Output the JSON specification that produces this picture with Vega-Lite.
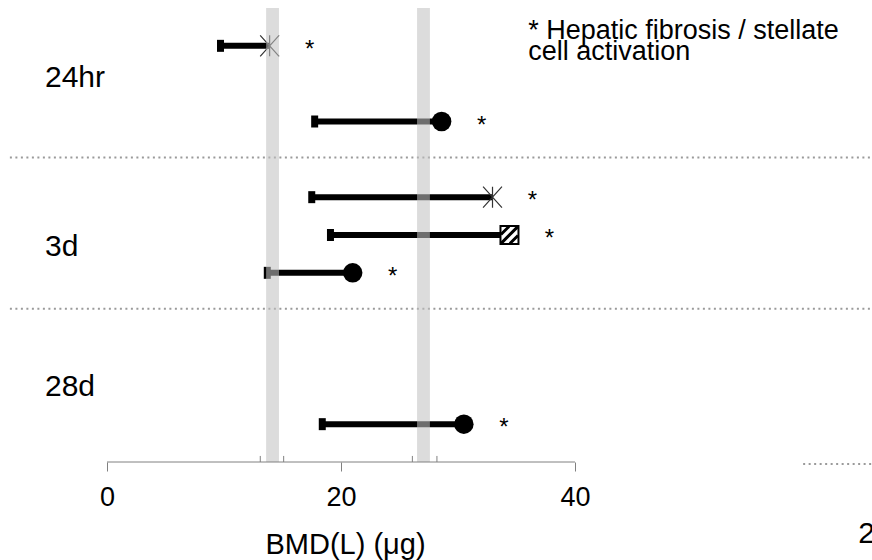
{
  "$schema": "https://vega.github.io/schema/vega-lite/v6.json",
  "width": 872,
  "height": 454,
  "autosize": "none",
  "padding": {"left": 0, "right": 0, "top": 8, "bottom": 98},
  "background": "white",
  "config": {"view": {"stroke": null}, "font": "Liberation Sans"},
  "datasets": {
    "est": [
      {"row": 0, "lo": 9.7, "bmd": 13.9, "shape": "asterisk"},
      {"row": 2, "lo": 17.75, "bmd": 28.6, "shape": "circle"},
      {"row": 4, "lo": 17.5, "bmd": 32.95, "shape": "asterisk"},
      {"row": 5, "lo": 19.1, "bmd": 34.4, "shape": "square"},
      {"row": 6, "lo": 13.7, "bmd": 21.0, "shape": "circle"},
      {"row": 10, "lo": 18.4, "bmd": 30.5, "shape": "circle"}
    ],
    "bands": [{"lo": 13.6, "hi": 14.7}, {"lo": 26.5, "hi": 27.6}],
    "brackets": [{"x": 13.1}, {"x": 15.1}, {"x": 26.1}, {"x": 28.2}],
    "seps": [
      {"x1": -8.3, "x2": 65.4, "y": 2.95},
      {"x1": -8.3, "x2": 65.4, "y": 6.95},
      {"x1": 59.5, "x2": 65.4, "y": 11.05}
    ],
    "axisline": [{"a": 0, "b": 40}],
    "labels": [
      {"t": "24hr", "x": -5.3, "y": 1.088},
      {"t": "3d", "x": -5.3, "y": 5.556},
      {"t": "28d", "x": -5.3, "y": 9.256}
    ],
    "legend": [
      {"t": "* Hepatic fibrosis / stellate", "x": 36.0, "y": -0.18},
      {"t": "cell activation", "x": 36.0, "y": 0.375}
    ],
    "frag": [{"t": "2", "x": 64.2, "y": 13.14}]
  },
  "layer": [
    {
      "data": {"name": "seps"},
      "mark": {"type": "rule", "color": "#9a9a9a", "strokeWidth": 2, "strokeDash": [2, 3.5]},
      "encoding": {
        "x": {"field": "x1", "type": "quantitative", "scale": {"domain": [-9.145, 65.385], "nice": false, "zero": false}, "axis": {"values": [0, 20, 40], "domain": false, "grid": false, "ticks": true, "tickSize": 9, "tickColor": "#808080", "tickWidth": 1, "labelFontSize": 27, "labelColor": "#000000", "labelPadding": 13, "labelFont": "Liberation Sans", "labelFlush": false, "labelOverlap": false, "format": "d", "title": "BMD(L) (μg)", "titleFontSize": 29, "titleFontWeight": "normal", "titleColor": "#000000", "titleFont": "Liberation Sans", "titleX": 345, "titleY": 91, "titleBaseline": "alphabetic", "titleAlign": "center"}},
        "x2": {"field": "x2"},
        "y": {"field": "y", "type": "quantitative", "scale": {"domain": [-1, 11], "reverse": true, "nice": false, "zero": false}, "axis": null}
      }
    },
    {
      "data": {"name": "est"},
      "mark": {"type": "rule", "color": "#000000", "strokeWidth": 6, "strokeCap": "butt"},
      "encoding": {
        "x": {"field": "lo", "type": "quantitative", "scale": {"domain": [-9.145, 65.385], "nice": false, "zero": false}, "axis": {"values": [0, 20, 40], "domain": false, "grid": false, "ticks": true, "tickSize": 9, "tickColor": "#808080", "tickWidth": 1, "labelFontSize": 27, "labelColor": "#000000", "labelPadding": 13, "labelFont": "Liberation Sans", "labelFlush": false, "labelOverlap": false, "format": "d", "title": "BMD(L) (μg)", "titleFontSize": 29, "titleFontWeight": "normal", "titleColor": "#000000", "titleFont": "Liberation Sans", "titleX": 345, "titleY": 91, "titleBaseline": "alphabetic", "titleAlign": "center"}},
        "x2": {"field": "bmd"},
        "y": {"field": "row", "type": "quantitative", "scale": {"domain": [-1, 11], "reverse": true, "nice": false, "zero": false}, "axis": null}
      }
    },
    {
      "data": {"name": "est"},
      "mark": {"type": "tick", "orient": "vertical", "thickness": 7, "size": 12, "color": "#000000", "opacity": 1},
      "encoding": {
        "x": {"field": "lo", "type": "quantitative", "scale": {"domain": [-9.145, 65.385], "nice": false, "zero": false}, "axis": {"values": [0, 20, 40], "domain": false, "grid": false, "ticks": true, "tickSize": 9, "tickColor": "#808080", "tickWidth": 1, "labelFontSize": 27, "labelColor": "#000000", "labelPadding": 13, "labelFont": "Liberation Sans", "labelFlush": false, "labelOverlap": false, "format": "d", "title": "BMD(L) (μg)", "titleFontSize": 29, "titleFontWeight": "normal", "titleColor": "#000000", "titleFont": "Liberation Sans", "titleX": 345, "titleY": 91, "titleBaseline": "alphabetic", "titleAlign": "center"}},
        "y": {"field": "row", "type": "quantitative", "scale": {"domain": [-1, 11], "reverse": true, "nice": false, "zero": false}, "axis": null}
      }
    },
    {
      "data": {"name": "est"},
      "transform": [{"filter": "datum.shape === 'circle'"}],
      "mark": {"type": "point", "shape": "circle", "filled": true, "size": 380, "color": "#000000", "opacity": 1},
      "encoding": {
        "x": {"field": "bmd", "type": "quantitative", "scale": {"domain": [-9.145, 65.385], "nice": false, "zero": false}, "axis": {"values": [0, 20, 40], "domain": false, "grid": false, "ticks": true, "tickSize": 9, "tickColor": "#808080", "tickWidth": 1, "labelFontSize": 27, "labelColor": "#000000", "labelPadding": 13, "labelFont": "Liberation Sans", "labelFlush": false, "labelOverlap": false, "format": "d", "title": "BMD(L) (μg)", "titleFontSize": 29, "titleFontWeight": "normal", "titleColor": "#000000", "titleFont": "Liberation Sans", "titleX": 345, "titleY": 91, "titleBaseline": "alphabetic", "titleAlign": "center"}},
        "y": {"field": "row", "type": "quantitative", "scale": {"domain": [-1, 11], "reverse": true, "nice": false, "zero": false}, "axis": null}
      }
    },
    {
      "data": {"name": "est"},
      "transform": [{"filter": "datum.shape === 'asterisk'"}],
      "mark": {"type": "point", "shape": "M-0.9,-1L0.9,1M0.9,-1L-0.9,1M0,-1L0,1", "filled": false, "size": 441, "stroke": "#333333", "strokeWidth": 1.2, "opacity": 1},
      "encoding": {
        "x": {"field": "bmd", "type": "quantitative", "scale": {"domain": [-9.145, 65.385], "nice": false, "zero": false}, "axis": {"values": [0, 20, 40], "domain": false, "grid": false, "ticks": true, "tickSize": 9, "tickColor": "#808080", "tickWidth": 1, "labelFontSize": 27, "labelColor": "#000000", "labelPadding": 13, "labelFont": "Liberation Sans", "labelFlush": false, "labelOverlap": false, "format": "d", "title": "BMD(L) (μg)", "titleFontSize": 29, "titleFontWeight": "normal", "titleColor": "#000000", "titleFont": "Liberation Sans", "titleX": 345, "titleY": 91, "titleBaseline": "alphabetic", "titleAlign": "center"}},
        "y": {"field": "row", "type": "quantitative", "scale": {"domain": [-1, 11], "reverse": true, "nice": false, "zero": false}, "axis": null}
      }
    },
    {
      "data": {"name": "est"},
      "transform": [{"filter": "datum.shape === 'square'"}],
      "mark": {"type": "point", "shape": "square", "filled": true, "fill": "#ffffff", "stroke": "#000000", "strokeWidth": 2, "size": 324, "opacity": 1},
      "encoding": {
        "x": {"field": "bmd", "type": "quantitative", "scale": {"domain": [-9.145, 65.385], "nice": false, "zero": false}, "axis": {"values": [0, 20, 40], "domain": false, "grid": false, "ticks": true, "tickSize": 9, "tickColor": "#808080", "tickWidth": 1, "labelFontSize": 27, "labelColor": "#000000", "labelPadding": 13, "labelFont": "Liberation Sans", "labelFlush": false, "labelOverlap": false, "format": "d", "title": "BMD(L) (μg)", "titleFontSize": 29, "titleFontWeight": "normal", "titleColor": "#000000", "titleFont": "Liberation Sans", "titleX": 345, "titleY": 91, "titleBaseline": "alphabetic", "titleAlign": "center"}},
        "y": {"field": "row", "type": "quantitative", "scale": {"domain": [-1, 11], "reverse": true, "nice": false, "zero": false}, "axis": null}
      }
    },
    {
      "data": {"name": "est"},
      "transform": [{"filter": "datum.shape === 'square'"}],
      "mark": {"type": "point", "shape": "M-0.95,-0.05L-0.05,-0.95M-0.9,0.9L0.9,-0.9M0.05,0.95L0.95,0.05", "filled": false, "stroke": "#000000", "strokeWidth": 3, "size": 324, "opacity": 1},
      "encoding": {
        "x": {"field": "bmd", "type": "quantitative", "scale": {"domain": [-9.145, 65.385], "nice": false, "zero": false}, "axis": {"values": [0, 20, 40], "domain": false, "grid": false, "ticks": true, "tickSize": 9, "tickColor": "#808080", "tickWidth": 1, "labelFontSize": 27, "labelColor": "#000000", "labelPadding": 13, "labelFont": "Liberation Sans", "labelFlush": false, "labelOverlap": false, "format": "d", "title": "BMD(L) (μg)", "titleFontSize": 29, "titleFontWeight": "normal", "titleColor": "#000000", "titleFont": "Liberation Sans", "titleX": 345, "titleY": 91, "titleBaseline": "alphabetic", "titleAlign": "center"}},
        "y": {"field": "row", "type": "quantitative", "scale": {"domain": [-1, 11], "reverse": true, "nice": false, "zero": false}, "axis": null}
      }
    },
    {
      "data": {"name": "bands"},
      "mark": {"type": "rect", "color": "#c1c1c1", "opacity": 0.57},
      "encoding": {
        "x": {"field": "lo", "type": "quantitative", "scale": {"domain": [-9.145, 65.385], "nice": false, "zero": false}, "axis": {"values": [0, 20, 40], "domain": false, "grid": false, "ticks": true, "tickSize": 9, "tickColor": "#808080", "tickWidth": 1, "labelFontSize": 27, "labelColor": "#000000", "labelPadding": 13, "labelFont": "Liberation Sans", "labelFlush": false, "labelOverlap": false, "format": "d", "title": "BMD(L) (μg)", "titleFontSize": 29, "titleFontWeight": "normal", "titleColor": "#000000", "titleFont": "Liberation Sans", "titleX": 345, "titleY": 91, "titleBaseline": "alphabetic", "titleAlign": "center"}},
        "x2": {"field": "hi"},
        "y": {"datum": -1, "type": "quantitative", "scale": {"domain": [-1, 11], "reverse": true, "nice": false, "zero": false}, "axis": null},
        "y2": {"datum": 11}
      }
    },
    {
      "data": {"name": "brackets"},
      "mark": {"type": "rule", "color": "#808080", "strokeWidth": 1},
      "encoding": {
        "x": {"field": "x", "type": "quantitative", "scale": {"domain": [-9.145, 65.385], "nice": false, "zero": false}, "axis": {"values": [0, 20, 40], "domain": false, "grid": false, "ticks": true, "tickSize": 9, "tickColor": "#808080", "tickWidth": 1, "labelFontSize": 27, "labelColor": "#000000", "labelPadding": 13, "labelFont": "Liberation Sans", "labelFlush": false, "labelOverlap": false, "format": "d", "title": "BMD(L) (μg)", "titleFontSize": 29, "titleFontWeight": "normal", "titleColor": "#000000", "titleFont": "Liberation Sans", "titleX": 345, "titleY": 91, "titleBaseline": "alphabetic", "titleAlign": "center"}},
        "y": {"datum": 11, "type": "quantitative", "scale": {"domain": [-1, 11], "reverse": true, "nice": false, "zero": false}, "axis": null},
        "y2": {"datum": 10.84}
      }
    },
    {
      "data": {"name": "axisline"},
      "mark": {"type": "rule", "color": "#808080", "strokeWidth": 1},
      "encoding": {
        "x": {"field": "a", "type": "quantitative", "scale": {"domain": [-9.145, 65.385], "nice": false, "zero": false}, "axis": {"values": [0, 20, 40], "domain": false, "grid": false, "ticks": true, "tickSize": 9, "tickColor": "#808080", "tickWidth": 1, "labelFontSize": 27, "labelColor": "#000000", "labelPadding": 13, "labelFont": "Liberation Sans", "labelFlush": false, "labelOverlap": false, "format": "d", "title": "BMD(L) (μg)", "titleFontSize": 29, "titleFontWeight": "normal", "titleColor": "#000000", "titleFont": "Liberation Sans", "titleX": 345, "titleY": 91, "titleBaseline": "alphabetic", "titleAlign": "center"}},
        "x2": {"field": "b"},
        "y": {"datum": 11, "type": "quantitative", "scale": {"domain": [-1, 11], "reverse": true, "nice": false, "zero": false}, "axis": null}
      }
    },
    {
      "data": {"name": "est"},
      "mark": {"type": "text", "text": "*", "fontSize": 24, "dx": 40, "dy": 11, "align": "center", "baseline": "alphabetic", "color": "#000000", "font": "Liberation Sans"},
      "encoding": {
        "x": {"field": "bmd", "type": "quantitative", "scale": {"domain": [-9.145, 65.385], "nice": false, "zero": false}, "axis": {"values": [0, 20, 40], "domain": false, "grid": false, "ticks": true, "tickSize": 9, "tickColor": "#808080", "tickWidth": 1, "labelFontSize": 27, "labelColor": "#000000", "labelPadding": 13, "labelFont": "Liberation Sans", "labelFlush": false, "labelOverlap": false, "format": "d", "title": "BMD(L) (μg)", "titleFontSize": 29, "titleFontWeight": "normal", "titleColor": "#000000", "titleFont": "Liberation Sans", "titleX": 345, "titleY": 91, "titleBaseline": "alphabetic", "titleAlign": "center"}},
        "y": {"field": "row", "type": "quantitative", "scale": {"domain": [-1, 11], "reverse": true, "nice": false, "zero": false}, "axis": null}
      }
    },
    {
      "data": {"name": "labels"},
      "mark": {"type": "text", "fontSize": 30, "align": "left", "baseline": "alphabetic", "color": "#000000", "font": "Liberation Sans"},
      "encoding": {
        "text": {"field": "t"},
        "x": {"field": "x", "type": "quantitative", "scale": {"domain": [-9.145, 65.385], "nice": false, "zero": false}, "axis": {"values": [0, 20, 40], "domain": false, "grid": false, "ticks": true, "tickSize": 9, "tickColor": "#808080", "tickWidth": 1, "labelFontSize": 27, "labelColor": "#000000", "labelPadding": 13, "labelFont": "Liberation Sans", "labelFlush": false, "labelOverlap": false, "format": "d", "title": "BMD(L) (μg)", "titleFontSize": 29, "titleFontWeight": "normal", "titleColor": "#000000", "titleFont": "Liberation Sans", "titleX": 345, "titleY": 91, "titleBaseline": "alphabetic", "titleAlign": "center"}},
        "y": {"field": "y", "type": "quantitative", "scale": {"domain": [-1, 11], "reverse": true, "nice": false, "zero": false}, "axis": null}
      }
    },
    {
      "data": {"name": "legend"},
      "mark": {"type": "text", "fontSize": 27, "align": "left", "baseline": "alphabetic", "color": "#000000", "font": "Liberation Sans"},
      "encoding": {
        "text": {"field": "t"},
        "x": {"field": "x", "type": "quantitative", "scale": {"domain": [-9.145, 65.385], "nice": false, "zero": false}, "axis": {"values": [0, 20, 40], "domain": false, "grid": false, "ticks": true, "tickSize": 9, "tickColor": "#808080", "tickWidth": 1, "labelFontSize": 27, "labelColor": "#000000", "labelPadding": 13, "labelFont": "Liberation Sans", "labelFlush": false, "labelOverlap": false, "format": "d", "title": "BMD(L) (μg)", "titleFontSize": 29, "titleFontWeight": "normal", "titleColor": "#000000", "titleFont": "Liberation Sans", "titleX": 345, "titleY": 91, "titleBaseline": "alphabetic", "titleAlign": "center"}},
        "y": {"field": "y", "type": "quantitative", "scale": {"domain": [-1, 11], "reverse": true, "nice": false, "zero": false}, "axis": null}
      }
    },
    {
      "data": {"name": "frag"},
      "mark": {"type": "text", "fontSize": 30, "align": "left", "baseline": "alphabetic", "color": "#000000", "font": "Liberation Sans"},
      "encoding": {
        "text": {"field": "t"},
        "x": {"field": "x", "type": "quantitative", "scale": {"domain": [-9.145, 65.385], "nice": false, "zero": false}, "axis": {"values": [0, 20, 40], "domain": false, "grid": false, "ticks": true, "tickSize": 9, "tickColor": "#808080", "tickWidth": 1, "labelFontSize": 27, "labelColor": "#000000", "labelPadding": 13, "labelFont": "Liberation Sans", "labelFlush": false, "labelOverlap": false, "format": "d", "title": "BMD(L) (μg)", "titleFontSize": 29, "titleFontWeight": "normal", "titleColor": "#000000", "titleFont": "Liberation Sans", "titleX": 345, "titleY": 91, "titleBaseline": "alphabetic", "titleAlign": "center"}},
        "y": {"field": "y", "type": "quantitative", "scale": {"domain": [-1, 11], "reverse": true, "nice": false, "zero": false}, "axis": null}
      }
    }
  ]
}
